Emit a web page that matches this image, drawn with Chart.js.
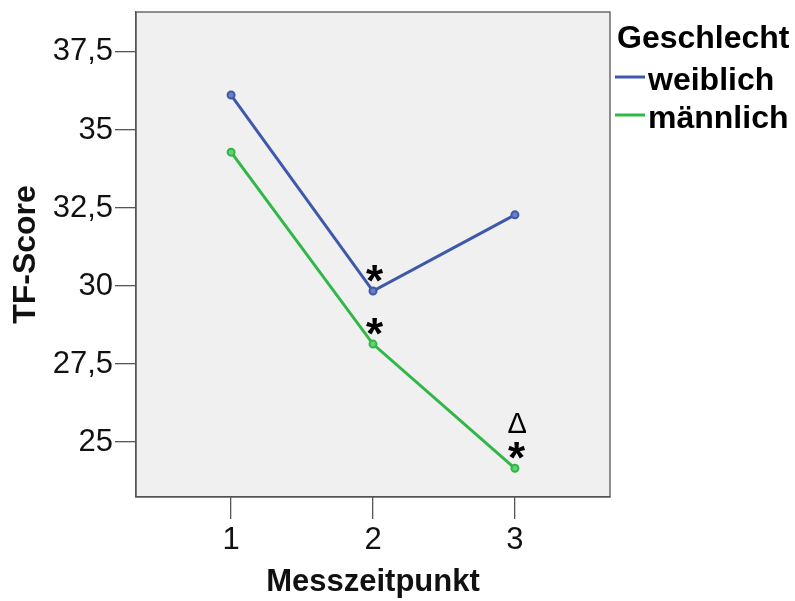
<!DOCTYPE html>
<html>
<head>
<meta charset="utf-8">
<script src="https://cdn.jsdelivr.net/npm/chart.js@4"></script>
<style>
  html, body { margin: 0; padding: 0; background: #fff; }
  #wrap { width: 795px; height: 601px; }
</style>
</head>
<body>
<div id="wrap"><canvas id="tfChart" width="795" height="601"></canvas></div>
<script>
// values
const zeitpunkte = [1, 2, 3];
const weiblich = [36.12, 29.84, 32.28];
const maennlich = [34.29, 28.14, 24.16];
const yTicks = [25, 27.5, 30, 32.5, 35, 37.5];
const seriesNames = ['weiblich', 'männlich'];

// significance marks: [dataset, point, text]
const marks = [
    [0, 1, '*'],
    [1, 1, '*'],
    [1, 2, '*'],
    [1, 2, 'Δ']
];

const BLUE = '#3e58ac';
const GREEN = '#2fb847';
const FONT = "'Liberation Sans', Arial, sans-serif";

function toPoints(arr) {
    return zeitpunkte.map((x, i) => ({ x: x, y: arr[i] }));
}

// gray plot area + frame
const plotBackground = {
    id: 'plotBackground',
    beforeDraw(chart) {
        const { ctx, chartArea: a } = chart;
        ctx.save();
        ctx.fillStyle = '#f0f0f0';
        ctx.fillRect(a.left, a.top, a.right - a.left, a.bottom - a.top);
        ctx.restore();
    },
    afterDraw(chart) {
        const { ctx, chartArea: a } = chart;
        ctx.save();
        ctx.strokeStyle = '#555';
        ctx.lineWidth = 1.3;
        ctx.strokeRect(a.left, a.top, a.right - a.left, a.bottom - a.top);
        ctx.restore();
    }
};

// draw text so that its ink box is centered on (x, y)
function centerText(ctx, text, x, y) {
    const m = ctx.measureText(text);
    const w = m.actualBoundingBoxLeft + m.actualBoundingBoxRight;
    const h = m.actualBoundingBoxAscent + m.actualBoundingBoxDescent;
    ctx.fillText(text, x - w / 2 + m.actualBoundingBoxLeft, y - h / 2 + m.actualBoundingBoxAscent);
}

const sigMarks = {
    id: 'sigMarks',
    afterDatasetsDraw(chart) {
        const ctx = chart.ctx;
        ctx.save();
        ctx.fillStyle = '#000';
        ctx.textAlign = 'left';
        ctx.textBaseline = 'alphabetic';
        marks.forEach(([ds, idx, txt]) => {
            const pt = chart.getDatasetMeta(ds).data[idx];
            if (txt === '*') {
                ctx.font = 'bold 44px ' + FONT;
                centerText(ctx, txt, pt.x + 2, pt.y - 18);
            } else {
                ctx.font = '29px ' + FONT;
                centerText(ctx, txt, pt.x + 2, pt.y - 45);
            }
        });
        ctx.restore();
    }
};

// legend on the right: title and line samples
const sideLegend = {
    id: 'sideLegend',
    afterDraw(chart) {
        const ctx = chart.ctx;
        ctx.save();
        ctx.fillStyle = '#000';
        ctx.textBaseline = 'alphabetic';
        ctx.textAlign = 'left';
        ctx.font = 'bold 32px ' + FONT;
        ctx.fillText('Geschlecht', 617, 48);
        chart.data.datasets.forEach((ds, i) => {
            const y = 77 + i * 38;
            ctx.strokeStyle = ds.borderColor;
            ctx.lineWidth = 3;
            ctx.beginPath();
            ctx.moveTo(615, y);
            ctx.lineTo(645, y);
            ctx.stroke();
            ctx.fillStyle = '#000';
            ctx.fillText(ds.label, 648, y + 13);
        });
        ctx.restore();
    }
};

const ctx = document.getElementById('tfChart').getContext('2d');
const tfChart = new Chart(ctx, {
    type: 'line',
    data: {
        datasets: [{
            label: seriesNames[0],
            data: toPoints(weiblich),
            borderColor: BLUE,
            backgroundColor: '#6a7fc4',
            pointBorderColor: BLUE,
            borderWidth: 3,
            pointRadius: 3.5,
            pointBorderWidth: 2
        }, {
            label: seriesNames[1],
            data: toPoints(maennlich),
            borderColor: GREEN,
            backgroundColor: '#66cf78',
            pointBorderColor: GREEN,
            borderWidth: 3,
            pointRadius: 3.5,
            pointBorderWidth: 2
        }]
    },
    options: {
        responsive: false,
        animation: false,
        layout: { padding: { left: 0, top: 12, right: 185, bottom: 0 } },
        plugins: {
            legend: { display: false },
            tooltip: { enabled: false }
        },
        scales: {
            x: {
                type: 'linear',
                min: 0.33,
                max: 3.67,
                afterBuildTicks: scale => { scale.ticks = zeitpunkte.map(v => ({ value: v })); },
                afterFit: scale => {
                    scale.height = 104;
                    scale.paddingLeft = 0;
                    scale.paddingRight = 0;
                },
                grid: { drawOnChartArea: false, tickLength: 22, color: '#555', lineWidth: 1.3 },
                border: { display: true, color: '#555', width: 1.3 },
                ticks: {
                    color: '#111',
                    padding: 3,
                    maxRotation: 0,
                    font: { family: FONT, size: 31 },
                    callback: v => String(v)
                },
                title: {
                    display: true,
                    text: 'Messzeitpunkt',
                    color: '#111',
                    padding: { top: 0, bottom: 0 },
                    font: { family: FONT, size: 31, weight: 'bold' }
                }
            },
            y: {
                min: 23.24,
                max: 38.78,
                afterBuildTicks: scale => { scale.ticks = yTicks.map(v => ({ value: v })); },
                afterFit: scale => {
                    scale.width = 136;
                    scale.paddingTop = 0;
                    scale.paddingBottom = 0;
                },
                grid: { drawOnChartArea: false, tickLength: 21, color: '#555', lineWidth: 1.3 },
                border: { display: true, color: '#555', width: 1.3 },
                ticks: {
                    color: '#111',
                    padding: 2,
                    font: { family: FONT, size: 31 },
                    callback: v => String(v).replace('.', ',')
                },
                title: {
                    display: true,
                    text: 'TF-Score',
                    color: '#111',
                    padding: { top: 7, bottom: 0 },
                    font: { family: FONT, size: 32, weight: 'bold' }
                }
            }
        }
    },
    plugins: [plotBackground, sigMarks, sideLegend]
});
</script>
</body>
</html>
